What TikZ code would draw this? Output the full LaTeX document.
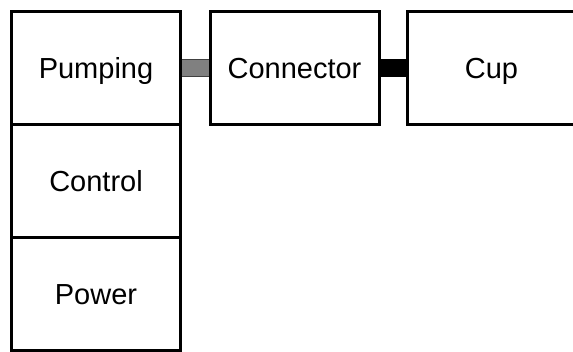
\documentclass[tikz,border=0pt]{standalone}
\usepackage{fontspec}
\setmainfont{Liberation Sans}
\usetikzlibrary{positioning}
\tikzset{
  part/.style={draw,line width=3pt,fill=white,outer sep=0pt,minimum width=169pt,minimum height=113pt,
    text height=21pt,text depth=0pt,font=\fontsize{29}{31}\selectfont},
  link/.style={line width=1pt,double distance=16pt}
}
\begin{document}
\begin{tikzpicture}[x=1pt,y=1pt]
                \useasboundingbox (0,0) rectangle (573,-352);
                \clip (0,0) rectangle (573,-352);
                %% pump unit
                \node[part] (pump) at (96,-68.5) {Pumping};
                \node[part,below=0pt of pump] (ctrl) {Control};
                \node[part,below=0pt of ctrl] (power) {Power};
                %% connector and cup
                \node[part,right=29.5pt of pump] (conn) {Connector};
                \node[part,right=28pt of conn] (cup) {Cup};
                %% links
                \draw[link,black!75,double=black!50] (pump.east) -- (conn.west);
                \draw[link,black,double=black] (conn.east) -- (cup.west);
                %% redraw borders over the links
                \foreach \n in {pump,conn,cup} \draw[line width=3pt] (\n.south west) rectangle (\n.north east);
\end{tikzpicture}
\end{document}
